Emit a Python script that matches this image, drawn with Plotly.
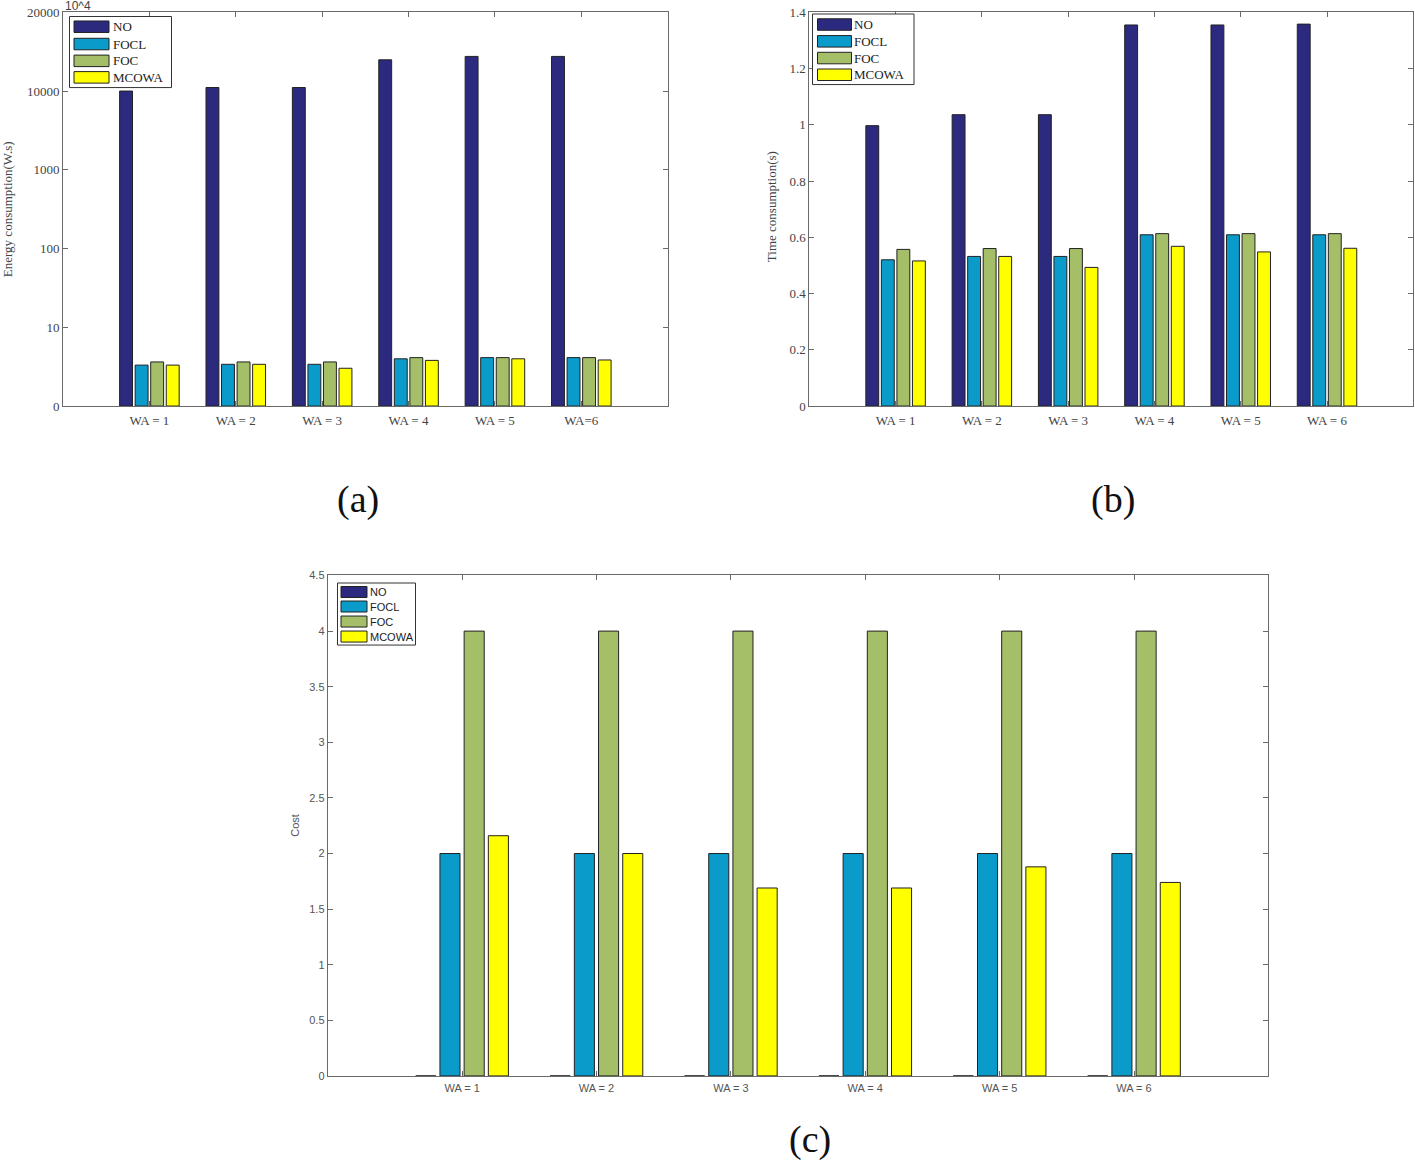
import math
import plotly.graph_objects as go

W, H = 1415, 1173
# the page is rendered with an effective drawing height of 1157 px
HR = 1157

series = ["NO", "FOCL", "FOC", "MCOWA"]
colors = ["#2C2A7E", "#0A9BCB", "#A5BF68", "#FFFF00"]

# (a) Energy consumption (W.s), in tick-label units
cats_a = ["WA = 1", "WA = 2", "WA = 3", "WA = 4", "WA = 5", "WA=6"]
energy_NO = [10000, 10450, 10450, 13970, 14400, 14400]
energy_FOCL = [5.2, 5.3, 5.3, 6.0, 6.15, 6.15]
energy_FOC = [5.6, 5.6, 5.6, 6.15, 6.15, 6.15]
energy_MCOWA = [5.2, 5.3, 4.8, 5.8, 6.0, 5.85]
energy_ticks = [0, 10, 100, 1000, 10000, 20000]

# (b) Time consumption (s)
cats_b = ["WA = 1", "WA = 2", "WA = 3", "WA = 4", "WA = 5", "WA = 6"]
time_NO = [0.997, 1.036, 1.036, 1.355, 1.355, 1.358]
time_FOCL = [0.520, 0.532, 0.532, 0.609, 0.609, 0.609]
time_FOC = [0.557, 0.560, 0.560, 0.613, 0.613, 0.613]
time_MCOWA = [0.516, 0.532, 0.493, 0.568, 0.548, 0.561]
time_ticks = [0, 0.2, 0.4, 0.6, 0.8, 1, 1.2, 1.4]

# (c) Cost
cats_c = ["WA = 1", "WA = 2", "WA = 3", "WA = 4", "WA = 5", "WA = 6"]
cost_NO = [0, 0, 0, 0, 0, 0]
cost_FOCL = [2, 2, 2, 2, 2, 2]
cost_FOC = [4, 4, 4, 4, 4, 4]
cost_MCOWA = [2.16, 2.0, 1.69, 1.69, 1.88, 1.74]
cost_ticks = [0, 0.5, 1, 1.5, 2, 2.5, 3, 3.5, 4, 4.5]


def energy_axis(v):
    """Map the chart's segmented energy axis (0,10,100,1000,10000,20000 equally spaced)."""
    if v <= 10:
        return v / 10.0
    if v <= 10000:
        return math.log10(v)
    return 4 + (v - 10000) / 10000.0


def fmt(v):
    return ("%g" % v)


def px_x(p):
    return p / W


def px_y(p):
    return 1 - p / HR


fig = go.Figure()

panels = [
    ("x", "y", cats_a,
     [[energy_axis(v) for v in s] for s in (energy_NO, energy_FOCL, energy_FOC, energy_MCOWA)]),
    ("x2", "y2", cats_b, [time_NO, time_FOCL, time_FOC, time_MCOWA]),
    ("x3", "y3", cats_c, [cost_NO, cost_FOCL, cost_FOC, cost_MCOWA]),
]

for xa, ya, cats, data in panels:
    for name, col, vals in zip(series, colors, data):
        fig.add_trace(go.Bar(
            x=cats, y=vals, name=name, xaxis=xa, yaxis=ya, showlegend=False,
            marker=dict(color=col, line=dict(color="#222222", width=1)),
        ))

axis_col = "#6a6a6a"
serif = "Liberation Serif, Times New Roman, serif"
sans = "Liberation Sans, Arial, sans-serif"


def xaxis(domain, anchor, font):
    return dict(domain=domain, anchor=anchor, type="category", range=[-1, 6],
                showline=True, linecolor=axis_col, linewidth=1, mirror="ticks",
                ticks="inside", ticklen=5, tickcolor=axis_col, showgrid=False,
                zeroline=False, tickfont=font, fixedrange=True, ticklabelstandoff=2)


def yaxis(domain, anchor, rng, font, **kw):
    d = dict(domain=domain, anchor=anchor, range=rng, showline=True, linecolor=axis_col,
             linewidth=1, mirror="ticks", ticks="inside", ticklen=5, tickcolor=axis_col,
             showgrid=False, zeroline=False, tickfont=font, fixedrange=True)
    d.update(kw)
    return d


font_ab = dict(family=serif, size=13, color="#444444")
font_c = dict(family=sans, size=11, color="#555555")

ya_dom = [px_y(406.7), px_y(13.3)]
yc_dom = [px_y(1076), px_y(576)]

fig.update_layout(
    width=W, height=H, margin=dict(l=0, r=0, t=0, b=0),
    paper_bgcolor="white", plot_bgcolor="white",
    barmode="group", bargap=0.28, bargroupgap=0.17,
    showlegend=False,
    xaxis=xaxis([px_x(63), px_x(667.7)], "y", font_ab),
    yaxis=yaxis(ya_dom, "x", [0, 5], font_ab,
                tickvals=[energy_axis(v) for v in energy_ticks],
                ticktext=[str(v) for v in energy_ticks]),
    xaxis2=xaxis([px_x(809.3), px_x(1413.3)], "y2", font_ab),
    yaxis2=yaxis(ya_dom, "x2", [0, 1.4], font_ab,
                 tickvals=time_ticks, ticktext=[fmt(v) for v in time_ticks]),
    xaxis3=xaxis([px_x(327.7), px_x(1268.4)], "y3", font_c),
    yaxis3=yaxis(yc_dom, "x3", [0, 4.5], font_c,
                 tickvals=cost_ticks, ticktext=[fmt(v) for v in cost_ticks]),
)

shapes = []
annotations = []


def add_legend(box, sw_x, text_x, centers, sw_h, font):
    x0, x1, y0, y1 = box
    shapes.append(dict(type="rect", xref="paper", yref="paper",
                       x0=px_x(x0), x1=px_x(x1), y0=px_y(y1), y1=px_y(y0),
                       line=dict(color="#333333", width=1), fillcolor="white", layer="above"))
    for name, col, cy in zip(series, colors, centers):
        shapes.append(dict(type="rect", xref="paper", yref="paper",
                           x0=px_x(sw_x[0]), x1=px_x(sw_x[1]),
                           y0=px_y(cy + sw_h / 2), y1=px_y(cy - sw_h / 2),
                           line=dict(color="#222222", width=1), fillcolor=col, layer="above"))
        annotations.append(dict(text=name, x=px_x(text_x), y=px_y(cy),
                                xanchor="left", yanchor="middle", font=font))


legend_font_ab = dict(family=serif, size=13, color="#222222")
add_legend((69.5, 171.5, 17.5, 88.5), (74, 109), 110.5, [27.7, 45.0, 61.8, 78.3], 11.5, legend_font_ab)
add_legend((812.5, 914, 15, 85.5), (817.5, 851.5), 852.5, [25.5, 42.3, 59.0, 75.7], 11.5, legend_font_ab)
add_legend((337.5, 415.5, 583.5, 645.5), (341, 367), 368.5, [592.5, 607.0, 622.0, 637.0], 11,
           dict(family=sans, size=11, color="#222222"))

annotations += [
    dict(text="10^4", x=px_x(63), y=px_y(7), xanchor="left", yanchor="middle",
         font=dict(family=sans, size=12, color="#444444")),
    dict(text="Energy consumption(W.s)", x=px_x(7), y=px_y(210), textangle=-90,
         xanchor="center", yanchor="middle",
         font=dict(family=serif, size=13, color="#444444")),
    dict(text="Time consumption(s)", x=px_x(771), y=px_y(208), textangle=-90,
         xanchor="center", yanchor="middle",
         font=dict(family=serif, size=13, color="#444444")),
    dict(text="Cost", x=px_x(295), y=px_y(826), textangle=-90,
         xanchor="center", yanchor="middle",
         font=dict(family=sans, size=11, color="#555555")),
    dict(text="(a)", x=px_x(358), y=px_y(500), xanchor="center", yanchor="middle",
         font=dict(family=serif, size=38, color="#111111")),
    dict(text="(b)", x=px_x(1113), y=px_y(500), xanchor="center", yanchor="middle",
         font=dict(family=serif, size=38, color="#111111")),
    dict(text="(c)", x=px_x(810), y=px_y(1140), xanchor="center", yanchor="middle",
         font=dict(family=serif, size=38, color="#111111")),
]
for a in annotations:
    a.update(xref="paper", yref="paper", showarrow=False)
fig.update_layout(annotations=annotations, shapes=shapes)

fig.write_html(
    "out.html",
    config={"displayModeBar": False},
    post_script=(
        "var de=document.documentElement, b=document.body;"
        "de.style.margin='0'; de.style.padding='0'; de.style.overflow='hidden';"
        "b.style.margin='0'; b.style.padding='0'; b.style.overflow='hidden';"
        "var g=document.getElementById('{plot_id}'); g.style.marginTop='-8px';"
        "window.scrollTo(0,0);"
    ),
)
